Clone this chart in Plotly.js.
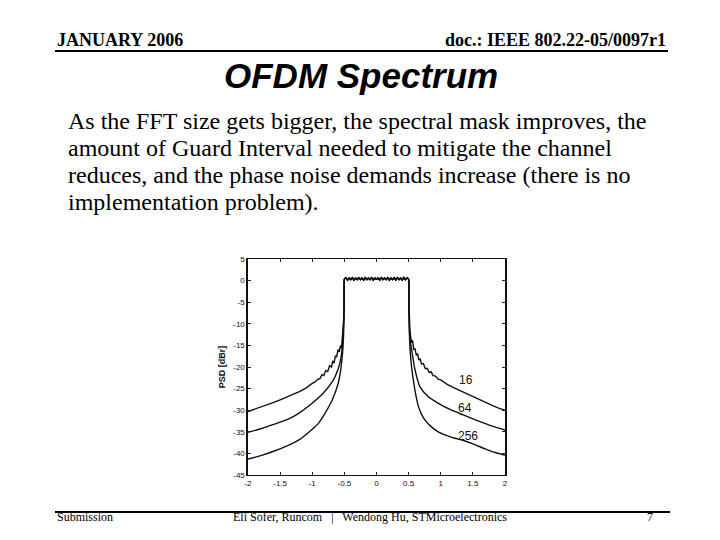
<!DOCTYPE html>
<html>
<head>
<meta charset="utf-8">
<script src="https://cdn.plot.ly/plotly-3.0.1.min.js"></script>
<style>html,body{margin:0;padding:0;background:#fff;}#chart{width:720px;height:540px;}</style>
</head>
<body>
<div id="chart"></div>
<script>
// ---- data ----
var topX = [-0.5,-0.475,-0.45,-0.425,-0.4,-0.375,-0.35,-0.325,-0.3,-0.275,-0.25,-0.225,-0.2,-0.175,-0.15,-0.125,-0.1,-0.075,-0.05,-0.025,0,0.025,0.05,0.075,0.1,0.125,0.15,0.175,0.2,0.225,0.25,0.275,0.3,0.325,0.35,0.375,0.4,0.425,0.45,0.475,0.5];
var topY = [0.3,0.7,0.1,0.6,0.2,0.7,0.1,0.6,0.2,0.7,0.2,0.6,0.1,0.7,0.2,0.6,0.2,0.7,0.1,0.6,0.3,0.6,0.1,0.7,0.2,0.6,0.2,0.7,0.1,0.6,0.2,0.7,0.1,0.7,0.2,0.6,0.1,0.8,0.2,0.6,0.3];

var x16L = [-2.0,-1.9,-1.8,-1.7,-1.6,-1.5,-1.4,-1.3,-1.2,-1.1,-1.05,-1.0,-0.96,-0.92,-0.88,-0.85,-0.82,-0.79,-0.76,-0.73,-0.70,-0.68,-0.66,-0.64,-0.62,-0.60,-0.58,-0.56,-0.545,-0.53,-0.52,-0.51,-0.505];
var y16L = [-30.3,-29.8,-29.3,-28.8,-28.2,-27.6,-27.0,-26.4,-25.7,-24.9,-24.3,-23.8,-23.5,-22.9,-22.7,-21.8,-22.0,-20.8,-21.1,-19.7,-20.0,-18.6,-19.1,-17.4,-17.7,-16.0,-16.5,-15.0,-15.7,-13.0,-11.4,-9.0,-5.0];
var x16R = [0.505,0.51,0.52,0.53,0.545,0.56,0.58,0.60,0.62,0.64,0.66,0.68,0.70,0.73,0.76,0.79,0.82,0.85,0.88,0.92,0.96,1.0,1.05,1.1,1.2,1.3,1.4,1.5,1.6,1.7,1.8,1.9,2.0];
var y16R = [-5.0,-9.0,-11.6,-12.8,-14.4,-13.8,-15.9,-15.8,-17.3,-16.9,-18.4,-18.1,-19.3,-19.2,-20.4,-20.3,-21.3,-21.1,-22.0,-22.1,-22.8,-23.0,-23.6,-24.0,-24.8,-25.5,-26.2,-26.9,-27.6,-28.3,-28.9,-29.5,-30.0];

var x64L = [-2.0,-1.8,-1.6,-1.35,-1.2,-1.035,-0.83,-0.67,-0.6,-0.57,-0.54,-0.52,-0.505];
var y64L = [-35.1,-34.3,-33.3,-31.9,-30.6,-28.8,-26.1,-23.0,-20.6,-19.1,-16.5,-13.0,-6.0];
var x64R = [0.505,0.515,0.53,0.548,0.6,0.677,0.806,0.962,1.17,1.35,1.6,1.8,2.0];
var y64R = [-6.0,-12.0,-14.5,-16.1,-20.7,-24.6,-26.9,-28.4,-30.0,-31.1,-32.6,-33.7,-34.6];

var x256L = [-2.0,-1.8,-1.6,-1.4,-1.2,-1.0,-0.9,-0.8,-0.7,-0.65,-0.6,-0.56,-0.53,-0.515,-0.507,-0.502];
var y256L = [-41.3,-40.5,-39.5,-38.3,-36.8,-34.4,-33.0,-30.7,-28.0,-26.2,-24.0,-21.0,-17.0,-13.5,-9.0,-5.0];
var x256R = [0.502,0.507,0.515,0.53,0.55,0.573,0.6,0.65,0.7,0.75,0.85,0.96,1.1,1.22,1.33,1.5,1.7,1.85,2.0];
var y256R = [-5.0,-9.0,-13.5,-17.5,-20.5,-23.0,-25.5,-29.0,-30.9,-32.2,-33.8,-35.0,-35.9,-36.5,-36.9,-37.8,-39.0,-39.8,-40.4];

var seriesNames = ['16','64','256'];
var labelX = [1.40,1.38,1.42];
var labelY = [-23.0,-29.6,-35.9];

var xTickVals = [-2,-1.5,-1,-0.5,0,0.5,1,1.5,2];
var xTickText = ['-2','-1.5','-1','-0.5','0','0.5','1','1.5','2'];
var yTickVals = [-45,-40,-35,-30,-25,-20,-15,-10,-5,0,5];
var yTickText = ['-45','-40','-35','-30','-25','-20','-15','-10','-5','0','5'];

var bodyLines = [
 'As the FFT size gets bigger, the spectral mask improves, the',
 'amount of Guard Interval needed to mitigate the channel',
 'reduces, and the phase noise demands increase (there is no',
 'implementation problem).'
];

// ---- build traces ----
function curve(xl, yl, xr, yr) {
  return {x: xl.concat(topX, xr), y: yl.concat(topY, yr)};
}
var curves = [curve(x16L,y16L,x16R,y16R), curve(x64L,y64L,x64R,y64R), curve(x256L,y256L,x256R,y256R)];
var traces = curves.map(function(c,i){
  var ln = {color:'#111', width:1.4};
  if (i > 0) { ln.shape = 'spline'; ln.smoothing = 0.7; }
  return {x:c.x, y:c.y, type:'scatter', mode:'lines', name:seriesNames[i],
          line:ln, hoverinfo:'skip', showlegend:false};
});

// plot area in pixels
var L=248, R=505, T=259, B=475;
function px(x){ return (x-L)/(R-L); }
function py(y){ return (B-y)/(B-T); }

var serif = 'Liberation Serif, Times New Roman, serif';
var sans = 'Liberation Sans, Arial, sans-serif';

var ann = [];
ann.push({xref:'paper',yref:'paper',x:px(55),y:py(40),xanchor:'left',yanchor:'middle',showarrow:false,
  text:'<b>JANUARY 2006</b>',font:{family:serif,size:18,color:'#000'}});
ann.push({xref:'paper',yref:'paper',x:px(668),y:py(40),xanchor:'right',yanchor:'middle',showarrow:false,
  text:'<b>doc.: IEEE 802.22-05/0097r1</b>',font:{family:serif,size:18,color:'#000'}});
ann.push({xref:'paper',yref:'paper',x:px(361),y:py(75),xanchor:'center',yanchor:'middle',showarrow:false,
  text:'<b><i>OFDM Spectrum</i></b>',font:{family:sans,size:35,color:'#000'}});
bodyLines.forEach(function(t,i){
  ann.push({xref:'paper',yref:'paper',x:px(66),y:py(121+27*i),xanchor:'left',yanchor:'middle',showarrow:false,
    text:t,font:{family:serif,size:24,color:'#000'}});
});
ann.push({xref:'paper',yref:'paper',x:px(55),y:py(517),xanchor:'left',yanchor:'middle',showarrow:false,
  text:'Submission',font:{family:serif,size:12,color:'#000'}});
ann.push({xref:'paper',yref:'paper',x:px(370),y:py(517),xanchor:'center',yanchor:'middle',showarrow:false,
  text:'Eli Sofer, Runcom   |   Wendong Hu, STMicroelectronics',font:{family:serif,size:12,color:'#000'}});
ann.push({xref:'paper',yref:'paper',x:px(655),y:py(517),xanchor:'right',yanchor:'middle',showarrow:false,
  text:'7',font:{family:serif,size:12,color:'#000'}});
seriesNames.forEach(function(n,i){
  ann.push({xref:'x',yref:'y',x:labelX[i],y:labelY[i],xanchor:'center',yanchor:'middle',showarrow:false,
    text:n,font:{family:sans,size:12,color:'#111'}});
});

var shapes = [
  {type:'line',xref:'paper',yref:'paper',x0:px(55),x1:px(668),y0:py(51),y1:py(51),line:{color:'#000',width:2}},
  {type:'line',xref:'paper',yref:'paper',x0:px(55),x1:px(670),y0:py(512),y1:py(512),line:{color:'#000',width:2}}
];

var layout = {
  width:720, height:540,
  margin:{l:L, r:720-R, t:T, b:540-B, pad:0},
  paper_bgcolor:'#fff', plot_bgcolor:'#fff',
  showlegend:false,
  xaxis:{range:[-2,2], tickvals:xTickVals, ticktext:xTickText, ticks:'inside', ticklen:3, tickcolor:'#222',
    showline:true, linecolor:'#111', linewidth:1.3, mirror:'ticks', showgrid:false, zeroline:false,
    tickfont:{family:sans,size:8,color:'#111'}},
  yaxis:{range:[-45,5], tickvals:yTickVals, ticktext:yTickText, ticks:'inside', ticklen:3, tickcolor:'#222',
    showline:true, linecolor:'#111', linewidth:1.6, mirror:'ticks', showgrid:false, zeroline:false,
    tickfont:{family:sans,size:8,color:'#111'},
    title:{text:'<b>PSD [dBr]</b>', font:{family:sans,size:9,color:'#111'}, standoff:6}},
  annotations:ann,
  shapes:shapes
};

Plotly.newPlot('chart', traces, layout, {staticPlot:true, displayModeBar:false});
</script>
</body>
</html>
